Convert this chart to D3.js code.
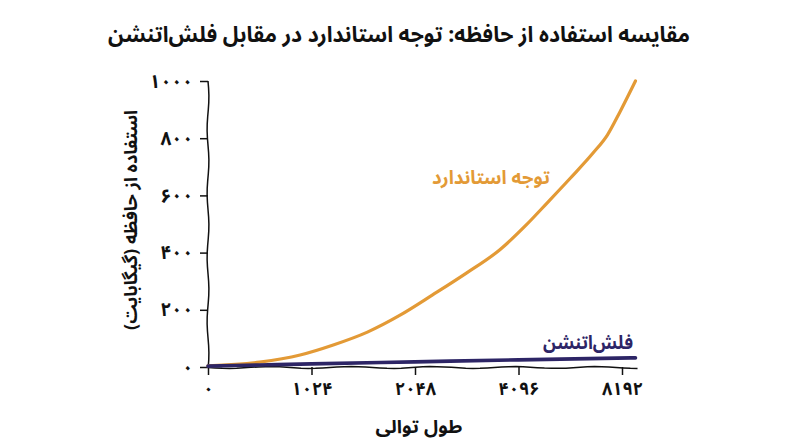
<!DOCTYPE html>
<html><head><meta charset="utf-8">
<script src="https://cdn.jsdelivr.net/npm/d3@7"></script>
<style>
html,body{margin:0;padding:0;background:#fff;}
text{font-family:"Noto Sans Arabic","Vazirmatn","DejaVu Sans",sans-serif;}
</style></head>
<body>
<svg id="c" width="800" height="447"></svg>
<script>
// Data (x = position along the tick index: 0..4 correspond to tick labels)
const xTickLabels = ["۰","۱۰۲۴","۲۰۴۸","۴۰۹۶","۸۱۹۲"];
const yTicks = [0,200,400,600,800,1000];
const stdX = [0,0.5,0.89,1.21,1.54,1.86,2.17,2.5,2.82,3.07,3.28,3.5,3.72,3.86,3.98,4.13];
const stdY = [4,17,42,77,122,182,252,329,410,495,575,660,748,812,892,1000];
const flashX = [0,0.5,1,2,3,4.13];
const flashY = [3,7,11,18,25,32];
const toFa = n => String(n).replace(/\d/g,d=>"۰۱۲۳۴۵۶۷۸۹"[d]);

const svg = d3.select("#c");
const x = d3.scaleLinear().domain([0,4]).range([208,622]);
const y = d3.scaleLinear().domain([0,1000]).range([367,81]);

svg.append("text").attr("x",399).attr("y",42).attr("text-anchor","middle")
  .attr("font-size",22).attr("font-weight","bold").attr("fill","#111")
  .attr("direction","rtl").attr("textLength",582).attr("lengthAdjust","spacingAndGlyphs")
  .text("مقایسه استفاده از حافظه: توجه استاندارد در مقابل فلش‌اتنشن");

// axes
const xAxis = d3.axisBottom(x).tickValues([0,1,2,3,4]).tickFormat(i=>xTickLabels[i]).tickSize(8).tickSizeOuter(0);
const gx = svg.append("g").attr("transform",`translate(0,${y(0)})`).call(xAxis);
const xw = d3.range(0,61).map(i=>{const px=x(0)+(x(4.15)-x(0))*i/60;return [px,0.5+0.9*Math.sin(i*0.55)];});
gx.select(".domain").attr("d",d3.line()(xw)).attr("fill","none").attr("stroke","#111").attr("stroke-width",1.5);
gx.selectAll(".tick line").attr("stroke","#111").attr("stroke-width",1.5);
gx.selectAll(".tick text").attr("font-size",18).attr("font-weight","bold").attr("fill","#111").attr("dy","0.95em");

const yAxis = d3.axisLeft(y).tickValues(yTicks).tickFormat(toFa).tickSize(8).tickSizeOuter(0);
const gy = svg.append("g").attr("transform",`translate(${x(0)},0)`).call(yAxis);
const yw = d3.range(0,41).map(i=>{const py=y(1000)+(y(0)-y(1000))*i/40;return [0.9*Math.sin(i*0.7),py];});
gy.select(".domain").attr("d",d3.line()(yw)).attr("fill","none").attr("stroke","#111").attr("stroke-width",1.5);
gy.selectAll(".tick line").attr("stroke","#111").attr("stroke-width",1.5);
gy.selectAll(".tick text").attr("font-size",19).attr("font-weight","bold").attr("fill","#111").attr("x",-15);

// lines
const line = d3.line().x(d=>x(d[0])).y(d=>y(d[1])).curve(d3.curveMonotoneX);
svg.append("path").datum(stdX.map((v,i)=>[v,stdY[i]])).attr("d",line)
  .attr("fill","none").attr("stroke","#E39A36").attr("stroke-width",3.2).attr("stroke-linecap","round");
svg.append("path").datum(flashX.map((v,i)=>[v,flashY[i]])).attr("d",line)
  .attr("fill","none").attr("stroke","#2D2566").attr("stroke-width",3.6).attr("stroke-linecap","round");

// labels
svg.append("text").attr("x",491).attr("y",184).attr("text-anchor","middle")
  .attr("font-size",19).attr("font-weight","bold").attr("fill","#E39A36").attr("direction","rtl")
  .attr("textLength",118).attr("lengthAdjust","spacingAndGlyphs").text("توجه استاندارد");
svg.append("text").attr("x",588).attr("y",349).attr("text-anchor","middle")
  .attr("font-size",19).attr("font-weight","bold").attr("fill","#2D2566").attr("direction","rtl")
  .attr("textLength",90).attr("lengthAdjust","spacingAndGlyphs").text("فلش‌اتنشن");

svg.append("text").attr("x",419).attr("y",433).attr("text-anchor","middle")
  .attr("font-size",18).attr("font-weight","bold").attr("fill","#111").attr("direction","rtl")
  .attr("textLength",87).attr("lengthAdjust","spacingAndGlyphs").text("طول توالی");
svg.append("text").attr("transform","translate(137,220) rotate(-90)").attr("text-anchor","middle")
  .attr("font-size",18).attr("font-weight","bold").attr("fill","#111").attr("direction","rtl")
  .attr("textLength",220).attr("lengthAdjust","spacingAndGlyphs").text("استفاده از حافظه (گیگابایت)");
</script>
</body></html>
